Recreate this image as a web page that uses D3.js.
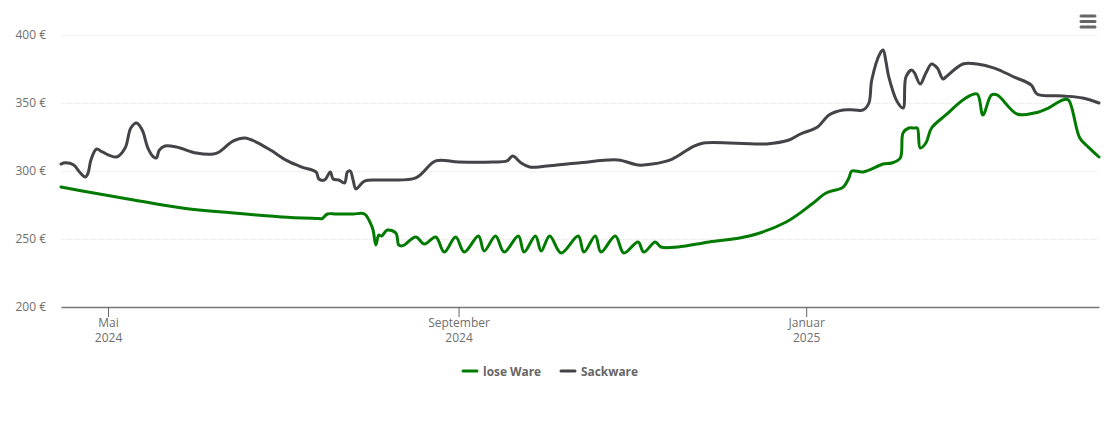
<!DOCTYPE html>
<html>
<head>
<meta charset="utf-8">
<script src="https://cdn.jsdelivr.net/npm/d3@7"></script>
<style>
    html, body { margin: 0; padding: 0; background: #fff; }
    text { font-family: "Open Sans", sans-serif; }
</style>
</head>
<body>
<div id="chart"></div>
<script>
var sackDates = ["2024-04-14T12:00Z", "2024-04-16", "2024-04-19", "2024-04-21", "2024-04-23", "2024-04-24", "2024-04-25", "2024-04-27", "2024-04-29",
    "2024-05-04", "2024-05-07", "2024-05-09", "2024-05-11", "2024-05-13", "2024-05-15", "2024-05-17", "2024-05-18", "2024-05-19", "2024-05-21", "2024-05-25",
    "2024-06-01", "2024-06-07", "2024-06-09", "2024-06-14", "2024-06-18", "2024-06-22", "2024-06-27",
    "2024-07-03", "2024-07-08", "2024-07-13", "2024-07-14", "2024-07-16", "2024-07-18", "2024-07-19", "2024-07-21", "2024-07-23", "2024-07-24", "2024-07-25", "2024-07-26", "2024-07-27", "2024-07-30",
    "2024-08-05", "2024-08-17", "2024-08-24",
    "2024-09-01", "2024-09-13", "2024-09-18", "2024-09-20", "2024-09-23", "2024-09-26",
    "2024-10-02", "2024-10-13", "2024-10-27",
    "2024-11-03", "2024-11-08", "2024-11-15", "2024-11-22", "2024-11-26",
    "2024-12-18", "2024-12-26", "2024-12-30",
    "2025-01-05", "2025-01-09", "2025-01-14", "2025-01-18", "2025-01-21", "2025-01-23", "2025-01-24", "2025-01-27", "2025-01-28", "2025-01-29", "2025-01-30",
    "2025-02-02", "2025-02-04", "2025-02-05", "2025-02-07", "2025-02-08", "2025-02-10", "2025-02-12", "2025-02-14", "2025-02-16", "2025-02-18", "2025-02-19", "2025-02-25",
    "2025-03-02", "2025-03-08", "2025-03-15", "2025-03-21", "2025-03-23",
    "2025-04-01", "2025-04-08", "2025-04-13T18:00Z"];
var sackValues = [305.1, 306, 304.4, 299.3, 295.6, 298.5, 308.1, 316.2, 314,
    310.3, 316.9, 331.6, 335.3, 330.1, 316.9, 310.3, 309.6, 315.4, 318.4, 317.7,
    313.2, 312.5, 314, 322.1, 324.3, 321.3, 315.4,
    307.4, 302.9, 299.3, 294.1, 293.4, 299.3, 294.1, 293.4, 291.2, 299.3, 300, 293.4, 286.8, 292.6,
    293.4, 294.9, 307.4,
    306.6, 306.6, 307.4, 311, 305.9, 302.9,
    303.7, 305.9, 308.1,
    304.4, 305.1, 308.8, 317.6, 320.6,
    319.9, 322.8, 327.2,
    332.4, 341.2, 344.9, 344.9, 344.9, 350, 366.9, 386.8, 389, 380.2, 369.1,
    350.7, 346.3, 369.1, 374.3, 372.1, 364, 372.1, 378.7, 375.7, 367.6, 369.1, 378.7,
    378.7, 375.7, 369.1, 363.2, 356.6,
    355.2, 353.7, 350];

var looseDates = ["2024-04-14T12:00Z", "2024-04-26", "2024-05-10", "2024-05-27", "2024-06-14",
    "2024-07-01", "2024-07-14", "2024-07-15", "2024-07-17", "2024-07-20", "2024-07-26", "2024-07-30", "2024-08-01",
    "2024-08-02", "2024-08-03", "2024-08-04", "2024-08-05", "2024-08-07", "2024-08-10", "2024-08-11", "2024-08-12", "2024-08-13", "2024-08-17", "2024-08-20", "2024-08-24", "2024-08-27", "2024-08-31",
    "2024-09-03", "2024-09-08", "2024-09-10", "2024-09-14", "2024-09-17", "2024-09-22", "2024-09-24", "2024-09-28", "2024-09-30",
    "2024-10-03", "2024-10-07", "2024-10-13", "2024-10-15", "2024-10-19", "2024-10-21", "2024-10-26", "2024-10-29",
    "2024-11-03", "2024-11-05", "2024-11-09", "2024-11-11", "2024-11-17", "2024-11-28",
    "2024-12-12", "2024-12-25",
    "2025-01-03", "2025-01-08", "2025-01-14", "2025-01-16", "2025-01-17", "2025-01-21", "2025-01-28", "2025-01-31",
    "2025-02-03", "2025-02-04", "2025-02-06", "2025-02-08", "2025-02-09", "2025-02-10", "2025-02-12", "2025-02-14", "2025-02-19", "2025-02-26",
    "2025-03-02", "2025-03-04", "2025-03-07", "2025-03-09", "2025-03-16", "2025-03-22", "2025-03-27",
    "2025-04-01", "2025-04-03", "2025-04-07", "2025-04-10", "2025-04-13T18:00Z"];
var looseValues = [288.2, 283.8, 278.7, 272.8, 269.1,
    266.2, 265, 264.9, 268.4, 268.4, 268.4, 268.4, 262,
    256.6, 245.6, 252.9, 252.2, 256.6, 254.4, 245.6, 244.9, 245.6, 251.5, 246.3, 251.5, 240.4, 251.5,
    240.4, 252.2, 241.2, 252.2, 240.4, 252.2, 240.4, 252.2, 241.2,
    252.2, 239.7, 252.2, 240.4, 252.2, 240.4, 252.2, 239.7,
    247.8, 240.4, 247.8, 244.1, 244.1, 247.8,
    252.2, 262.5,
    275.7, 283.8, 288.2, 294.9, 300, 299.3, 305.1, 305.9,
    309.6, 328, 331.6, 331.6, 331.6, 316.9, 320.6, 331.6, 341.2, 353.7,
    356.6, 341.2, 355.9, 355.9, 341.9, 342.6, 346.3,
    352.2, 352.2, 324.3, 317.6, 310.3];

var yTicks = [200, 250, 300, 350, 400];
var xTicks = ["2024-05-01", "2024-09-01", "2025-01-01"];
var xTickMonths = ["Mai", "September", "Januar"];
var xTickYears = ["2024", "2024", "2025"];
var seriesNames = ["lose Ware", "Sackware"];
var seriesColors = ["#007a00", "#434348"];

var width = 1110, height = 422;
var left = 61, right = 1099, top_ = 35, bottom = 307;

var svg = d3.select("#chart")
    .append("svg")
    .attr("width", width)
    .attr("height", height)
    .style("display", "block");

var x = d3.scaleUtc()
    .domain([new Date("2024-04-14T12:00Z"), new Date("2025-04-13T18:00Z")])
    .range([left, right]);

var y = d3.scaleLinear()
    .domain([200, 400])
    .range([bottom, top_]);

// gridlines and y labels
var yAxis = svg.append("g")
    .attr("transform", "translate(" + left + ",0)")
    .call(d3.axisLeft(y).tickValues(yTicks).tickSize(-(right - left)).tickPadding(15).tickFormat(function (d) { return d + " €"; }));
yAxis.select(".domain").remove();
yAxis.selectAll("line")
    .attr("stroke", "#e6e6e6")
    .attr("stroke-dasharray", "1,1")
    .filter(function (d) { return d === 200; }).remove();
yAxis.selectAll("text")
    .attr("fill", "#6e6e6e")
    .style("font-size", "12px")
    .style("font-family", '"Open Sans", sans-serif');

// x axis, two line labels
var xAxis = svg.append("g")
    .attr("transform", "translate(0," + bottom + ")")
    .call(d3.axisBottom(x).tickValues(xTicks.map(function (d) { return new Date(d); })).tickSize(10).tickSizeOuter(0).tickFormat(""));
xAxis.select(".domain").attr("stroke", "#777777").attr("stroke-width", 1.5);
xAxis.selectAll("line").attr("stroke", "#666666");
xAxis.selectAll("text").remove();
xAxis.selectAll(".tick").append("text")
    .attr("text-anchor", "middle")
    .attr("fill", "#6e6e6e")
    .style("font-size", "12px")
    .each(function (d, i) {
        d3.select(this).append("tspan").attr("x", 0).attr("y", 20).text(xTickMonths[i]);
        d3.select(this).append("tspan").attr("x", 0).attr("y", 35).text(xTickYears[i]);
    });

var line = d3.line()
    .x(function (d) { return x(d.date); })
    .y(function (d) { return y(d.value); })
    .curve(d3.curveCatmullRom.alpha(0.5));

function toPoints(dates, values) {
    return dates.map(function (d, i) { return { date: new Date(d), value: values[i] }; });
}

var series = [toPoints(looseDates, looseValues), toPoints(sackDates, sackValues)];

svg.selectAll(".serie")
    .data(series)
    .enter().append("path")
    .attr("class", "serie")
    .attr("fill", "none")
    .attr("stroke", function (d, i) { return seriesColors[i]; })
    .attr("stroke-width", 3)
    .attr("stroke-linejoin", "round")
    .attr("stroke-linecap", "round")
    .attr("d", line);

// legend
var legendX = [463, 561];
var legend = svg.selectAll(".legend")
    .data(seriesNames)
    .enter().append("g")
    .attr("class", "legend")
    .attr("transform", function (d, i) { return "translate(" + legendX[i] + ",371)"; });
legend.append("line")
    .attr("x1", 0)
    .attr("x2", 14)
    .attr("stroke", function (d, i) { return seriesColors[i]; })
    .attr("stroke-width", 3)
    .attr("stroke-linecap", "round");
legend.append("text")
    .attr("x", 20)
    .attr("y", 4.5)
    .attr("fill", "#666666")
    .style("font-size", "11.9px")
    .style("font-weight", "700")
    .text(function (d) { return d; });

// menu button
svg.append("g")
    .selectAll("line")
    .data([16, 21.5, 27])
    .enter().append("line")
    .attr("x1", 1081)
    .attr("x2", 1095)
    .attr("y1", function (d) { return d; })
    .attr("y2", function (d) { return d; })
    .attr("stroke", "#666666")
    .attr("stroke-width", 3)
    .attr("stroke-linecap", "round");
</script>
</body>
</html>
